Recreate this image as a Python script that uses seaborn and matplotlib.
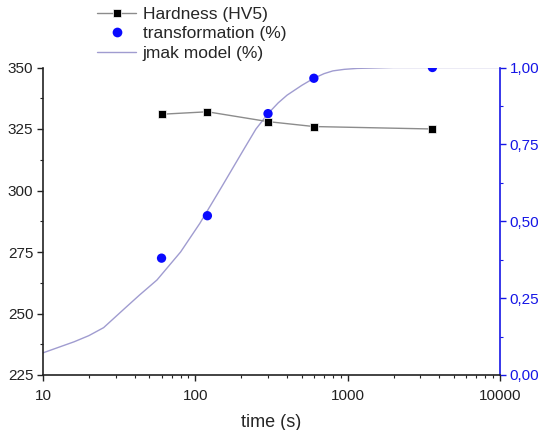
import matplotlib
matplotlib.use("Agg")
import matplotlib.pyplot as plt
import matplotlib.ticker as mticker
from matplotlib.lines import Line2D
import seaborn as sns
import pandas as pd

# --- data ---
hard_time = [60, 120, 300, 600, 3600]
hardness = [331, 332, 328, 326, 325]

trans_time = [60, 120, 300, 600, 3600]
transformation = [0.38, 0.518, 0.85, 0.965, 1.0]

jmak_time = [10, 16, 20, 25, 35, 43, 56, 80, 107, 149, 207, 250, 300, 350, 400, 500, 600,
             700, 800, 950, 1150, 2000, 10000]
jmak_frac = [0.072, 0.108, 0.128, 0.154, 0.22, 0.26, 0.309, 0.40, 0.493, 0.612, 0.732,
             0.80, 0.85, 0.885, 0.91, 0.942, 0.965, 0.98, 0.989, 0.994, 0.997, 1.0, 1.0]

left_ticks = [225, 250, 275, 300, 325, 350]
right_ticks = [0.0, 0.25, 0.5, 0.75, 1.0]
x_ticks = [10, 100, 1000, 10000]

sns.set_theme(style="ticks")
plt.rcParams['font.family'] = ['Liberation Sans', 'DejaVu Sans']

fig = plt.figure(figsize=(5.42, 4.30), dpi=100)
ax = fig.add_axes([43 / 542, 1 - 375 / 430, (500 - 43) / 542, (375 - 67.5) / 430])
ax2 = ax.twinx()

df_h = pd.DataFrame({"t": hard_time, "h": hardness})
df_t = pd.DataFrame({"t": trans_time, "f": transformation})
df_j = pd.DataFrame({"t": jmak_time, "f": jmak_frac})

line_grey = "#8c8c8c"
jmak_col = "#a09cd0"
blue = "#1515e6"

sns.lineplot(data=df_j, x="t", y="f", ax=ax2, color=jmak_col, linewidth=1.0, zorder=2)
sns.scatterplot(data=df_t, x="t", y="f", ax=ax2, color="#0a0aff", s=45, edgecolor="none",
                zorder=3)
sns.lineplot(data=df_h, x="t", y="h", ax=ax, color=line_grey, linewidth=1.0,
             marker="s", markersize=6, markerfacecolor="black", markeredgecolor="white",
             markeredgewidth=0.5, zorder=3)

ax.set_zorder(ax2.get_zorder() + 1)
ax.patch.set_visible(False)

ax.set_xscale("log")
ax.set_xlim(10, 10000)
ax.set_ylim(225, 350)
ax2.set_ylim(0, 1)

ax.set_xticks(x_ticks)
ax.xaxis.set_major_formatter(mticker.FuncFormatter(lambda v, p: f"{int(round(v))}"))
ax.xaxis.set_minor_locator(mticker.LogLocator(base=10, subs=range(2, 10)))
ax.xaxis.set_minor_formatter(mticker.NullFormatter())
ax.set_yticks(left_ticks)
ax.yaxis.set_minor_locator(mticker.MultipleLocator(12.5))
ax2.set_yticks(right_ticks)
ax2.yaxis.set_minor_locator(mticker.MultipleLocator(0.125))
ax2.yaxis.set_major_formatter(mticker.FuncFormatter(lambda v, p: f"{v:.2f}".replace(".", ",")))

ax.set_xlabel("time (s)", fontsize=13, labelpad=8)
ax.set_ylabel("")
ax2.set_ylabel("")

for a in (ax, ax2):
    a.spines["top"].set_visible(False)
ax.spines["right"].set_visible(False)
ax2.spines["left"].set_visible(False)
ax2.spines["bottom"].set_visible(False)
ax.spines["left"].set_color("#222222")
ax.spines["bottom"].set_color("#222222")
ax2.spines["right"].set_color(blue)
for sp in ("left", "bottom"):
    ax.spines[sp].set_linewidth(1.2)
ax2.spines["right"].set_linewidth(1.2)

ax.tick_params(axis="both", which="major", direction="out", length=4, width=1,
               labelsize=11, colors="#222222", pad=3)
ax.tick_params(axis="both", which="minor", direction="out", length=2.5, width=0.8,
               colors="#222222")
ax.tick_params(axis="x", which="major", pad=6)
ax2.tick_params(axis="y", which="major", direction="out", length=4, width=1,
                labelsize=11, colors=blue, pad=3)
ax2.tick_params(axis="y", which="minor", direction="out", length=2.5, width=0.8,
                colors=blue)

handles = [
    Line2D([], [], color=line_grey, linewidth=1.0, marker="s", markersize=6,
           markerfacecolor="black", markeredgecolor="white", markeredgewidth=0.5),
    Line2D([], [], color="none", marker="o", markersize=7, markerfacecolor="#0a0aff",
           markeredgecolor="none"),
    Line2D([], [], color=jmak_col, linewidth=1.0),
]
labels = ["Hardness (HV5)", "transformation (%)", "jmak model (%)"]
fig.legend(handles, labels, loc="upper left", bbox_to_anchor=(94 / 542, 1 - 3 / 430),
           frameon=False, fontsize=12.5, handlelength=2.2, handletextpad=0.4,
           labelspacing=0.25, borderaxespad=0.0, borderpad=0.2)

fig.savefig("out.png", dpi=100)
